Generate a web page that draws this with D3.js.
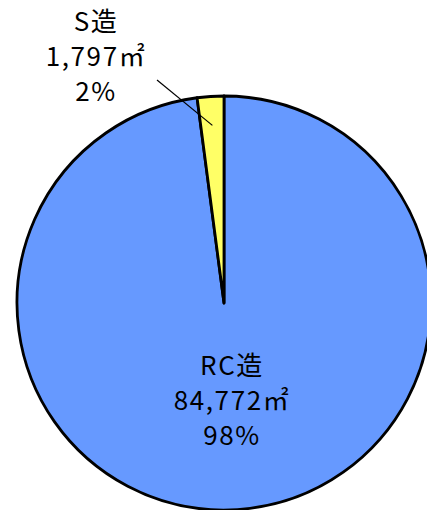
<!DOCTYPE html>
<html>
<head>
<meta charset="utf-8">
<script src="https://cdn.jsdelivr.net/npm/d3@7"></script>
<style>
  html, body { margin: 0; padding: 0; background: #fff; }
  svg { display: block; }
  text { font-family: "Noto Sans CJK JP", "Noto Sans", sans-serif; fill: #000; }
</style>
</head>
<body>
<svg id="chart" width="427" height="510"></svg>
<script>
// Floor area by structure type
const categories = ["RC造", "S造"];
const areas = [84772, 1797];
const areaLabels = ["84,772㎡", "1,797㎡"];
const percentLabels = ["98%", "2%"];
const colors = ["#6699FF", "#FFFF66"];

const svg = d3.select("#chart");
const cx = 224, cy = 303, radius = 207;

const data = categories.map((c, i) => ({ name: c, value: areas[i], area: areaLabels[i], pct: percentLabels[i], color: colors[i] }));

const pie = d3.pie().sort(null).value(d => d.value);
const arc = d3.arc().innerRadius(0).outerRadius(radius);
const arcs = pie(data);

const g = svg.append("g").attr("transform", `translate(${cx},${cy})`);

g.selectAll("path.slice")
  .data(arcs)
  .join("path")
  .attr("class", "slice")
  .attr("d", arc)
  .attr("fill", d => d.data.color)
  .attr("stroke", "#000")
  .attr("stroke-width", 2.8)
  .attr("stroke-linejoin", "round");

// Label positions (relative to pie centre)
const labelPos = [
  { x: 8, y: 72 },     // RC造, inside the slice
  { x: -128, y: -272 } // S造, outside with leader line
];
const lineGap = 35;

arcs.forEach((a, i) => {
  const p = labelPos[i];
  const t = g.append("text")
    .attr("text-anchor", "middle")
    .attr("font-size", 26)
    .attr("letter-spacing", 1.6);
  [a.data.name, a.data.area, a.data.pct].forEach((s, k) => {
    t.append("tspan").attr("x", p.x).attr("y", p.y + k * lineGap).text(s);
  });
});

// Leader line from the small slice to its label
const small = arcs[1];
const inner = d3.arc().innerRadius(radius * 0.86).outerRadius(radius * 0.86).centroid(small);
g.append("line")
  .attr("x1", inner[0]).attr("y1", inner[1])
  .attr("x2", -67).attr("y2", -223)
  .attr("stroke", "#000")
  .attr("stroke-width", 1.2);
</script>
</body>
</html>
